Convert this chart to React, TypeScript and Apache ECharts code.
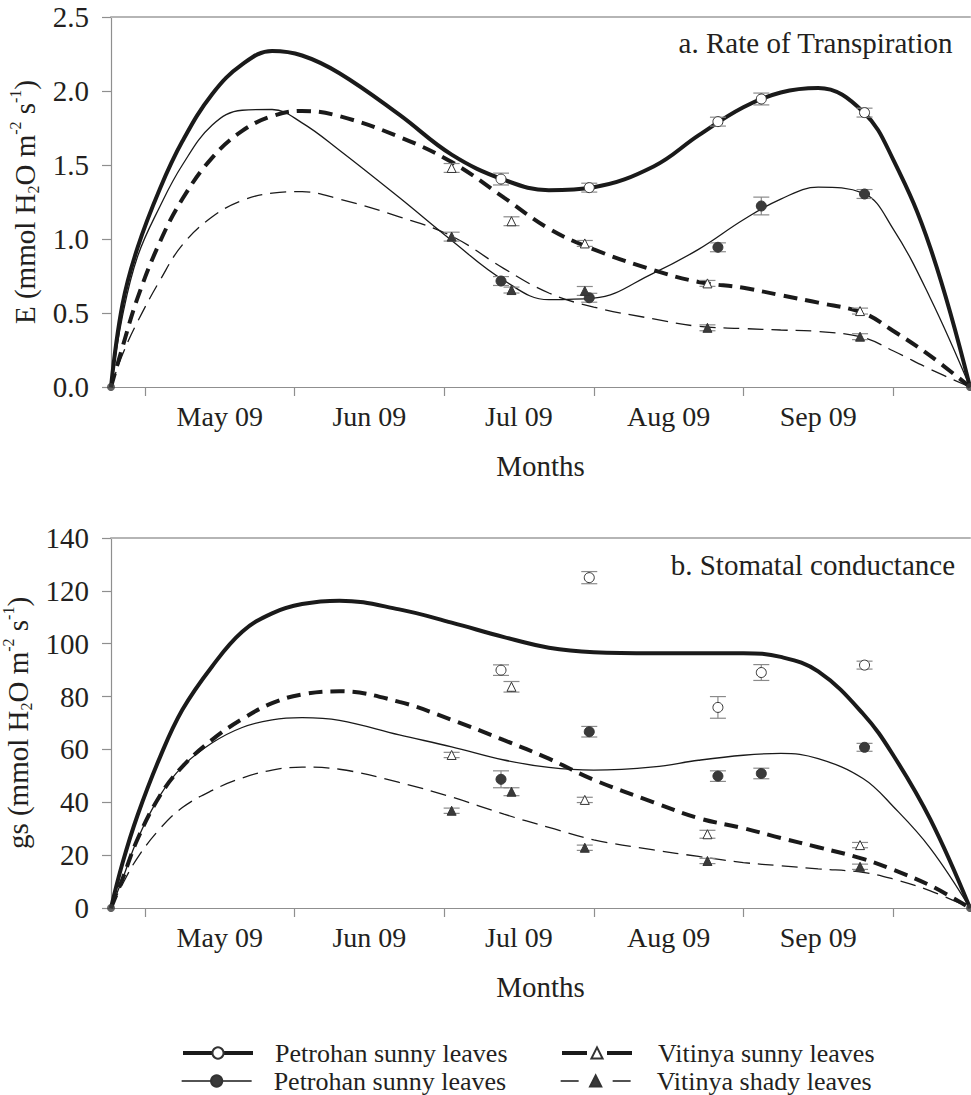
import React, { useEffect, useRef } from "react";
import * as echarts from "echarts";

// ---- axes ----
const monthTicks = [0, 1, 2, 3, 4, 5];
const monthLabels = ["May 09", "Jun 09", "Jul 09", "Aug 09", "Sep 09"];
const monthLabelPos = [0.5, 1.5, 2.5, 3.5, 4.5];
const xMin = -0.227;
const xMax = 5.515;

// ---- sampling dates (months from 1 May 2009) ----
const petrohanX = [2.38, 2.97, 3.83, 4.12, 4.81];
const vitinyaX = [2.05, 2.45, 2.94, 3.76, 4.78];

// ---- panel a: transpiration E ----
const ePetSun = [1.405, 1.347, 1.793, 1.946, 1.854];
const ePetSunErr = [0.04, 0.03, 0.03, 0.04, 0.03];
const ePetSun2 = [0.716, 0.603, 0.944, 1.223, 1.304];
const ePetSun2Err = [0.03, 0.03, 0.03, 0.06, 0.03];
const eVitSun = [1.48, 1.12, 0.97, 0.70, 0.513];
const eVitSunErr = [0.03, 0.03, 0.02, 0.02, 0.02];
const eVitShady = [1.016, 0.655, 0.649, 0.40, 0.34];
const eVitShadyErr = [0.03, 0.02, 0.03, 0.02, 0.02];

// ---- panel b: stomatal conductance gs ----
const gPetSun = [90.0, 125.0, 75.9, 89.1, 91.9];
const gPetSunErr = [2, 2.3, 4.1, 3, 1.5];
const gPetSun2 = [48.7, 66.7, 49.9, 50.9, 60.8];
const gPetSun2Err = [3.2, 2, 2, 2, 1.5];
const gVitSun = [57.9, 83.7, 40.9, 27.9, 23.8];
const gVitSunErr = [1, 2, 1, 1.5, 1];
const gVitShady = [36.8, 44.0, 22.8, 17.8, 15.6];
const gVitShadyErr = [1, 1.5, 1, 1, 1];

// ---- fitted curves ----
const fitX = [-0.227, -0.15, -0.05, 0.1, 0.25, 0.45, 0.65, 0.85, 1.05, 1.3, 1.7, 2.05, 2.4, 2.7, 3.0, 3.4, 3.7, 4.0, 4.25, 4.5, 4.8, 5.0, 5.25, 5.515];
const fitEPetSun = [0, 0.56, 0.94, 1.34, 1.66, 1.98, 2.18, 2.27, 2.24, 2.12, 1.84, 1.57, 1.40, 1.33, 1.35, 1.49, 1.70, 1.89, 1.99, 2.02, 1.86, 1.54, 0.94, 0];
const fitEPetSun2 = [0, 0.48, 0.88, 1.22, 1.50, 1.77, 1.87, 1.875, 1.785, 1.60, 1.28, 0.99, 0.72, 0.59, 0.60, 0.77, 0.93, 1.13, 1.27, 1.35, 1.31, 1.07, 0.60, 0];
const fitEVitSun = [0, 0.27, 0.60, 0.98, 1.27, 1.55, 1.73, 1.83, 1.865, 1.83, 1.69, 1.52, 1.28, 1.07, 0.93, 0.79, 0.71, 0.67, 0.62, 0.57, 0.50, 0.38, 0.21, 0];
const fitEVitShady = [0, 0.22, 0.44, 0.72, 0.96, 1.15, 1.26, 1.31, 1.32, 1.27, 1.15, 1.02, 0.80, 0.635, 0.54, 0.46, 0.41, 0.395, 0.385, 0.375, 0.335, 0.245, 0.12, 0];
const fitGPetSun = [0, 17, 35, 57, 75, 91.5, 104.5, 111.5, 115, 116.3, 113, 108, 102.5, 98.5, 96.8, 96.4, 96.4, 96.4, 95, 89.5, 73.5, 58, 33.5, 0];
const fitGPetSun2 = [0, 11, 26, 42.5, 53.5, 62.5, 68.3, 71.2, 72, 71, 65.5, 61, 56, 53.2, 52.2, 53.4, 55.9, 57.8, 58.5, 56.5, 49, 38.5, 22.6, 0];
const fitGVitSun = [0, 11, 26, 42.5, 53.5, 63.7, 71.5, 77.5, 80.8, 82, 78, 71.2, 63.5, 56.5, 48.5, 40, 34, 30.2, 26.5, 23, 18.6, 14.5, 8.5, 0];
const fitGVitShady = [0, 9, 19, 30, 38, 44.5, 49.2, 52.2, 53.3, 52.5, 47.5, 42, 35.5, 30.5, 25.8, 22, 19.5, 17.2, 16, 14.8, 13.5, 11, 6.5, 0];

const legendNames = ["Petrohan sunny leaves", "Petrohan sunny leaves ", "Vitinya sunny leaves", "Vitinya shady leaves"];

const serif = '"Liberation Serif", "Times New Roman", serif';
const axisColor = "#8f8f8f";
const textColor = "#231f20";
const ink = "#1a1a1a";
const FS = 29;
const FS_X = 28;

const styles = [
  { width: 4, type: "solid" as any, legendType: "solid" as any, symbol: "circle", size: 10, fill: "#ffffff" },
  { width: 1.3, type: "solid" as any, legendType: "solid" as any, symbol: "circle", size: 10, fill: "#3a3a3a" },
  { width: 4, type: [14, 8] as any, legendType: [25, 20] as any, symbol: "triangle", size: 9, fill: "#ffffff" },
  { width: 1.3, type: [16, 8] as any, legendType: [18, 34] as any, symbol: "triangle", size: 9, fill: "#3a3a3a" },
];

const pair = (xs: number[], ys: number[]) => xs.map((x, i) => [x, ys[i]]);
const triple = (xs: number[], ys: number[], es: number[]) => xs.map((x, i) => [x, ys[i], es[i]]);

function errorRender(params: any, api: any) {
  const x = api.value(0);
  const y = api.value(1);
  const e = api.value(2);
  const top = api.coord([x, y + e]);
  const bot = api.coord([x, y - e]);
  const half = 8;
  const st = { stroke: "#8a8a8a", lineWidth: 1.2 };
  return {
    type: "group",
    children: [
      { type: "line", shape: { x1: top[0], y1: top[1], x2: bot[0], y2: bot[1] }, style: st },
      { type: "line", shape: { x1: top[0] - half, y1: top[1], x2: top[0] + half, y2: top[1] }, style: st },
      { type: "line", shape: { x1: bot[0] - half, y1: bot[1], x2: bot[0] + half, y2: bot[1] }, style: st },
    ],
  };
}

function panelSeries(idx: number, fits: number[][], pts: number[][], errs: number[][]) {
  const out: any[] = [];
  const xs = [petrohanX, petrohanX, vitinyaX, vitinyaX];
  for (let k = 0; k < 4; k++) {
    const s = styles[k];
    out.push({
      type: "line",
      xAxisIndex: idx * 2,
      yAxisIndex: idx,
      data: pair(fitX, fits[k]),
      smooth: 0.4,
      showSymbol: false,
      symbol: "none",
      lineStyle: { color: ink, width: s.width, type: s.type },
      z: 2,
      silent: true,
    });
    out.push({
      type: "custom",
      xAxisIndex: idx * 2,
      yAxisIndex: idx,
      data: triple(xs[k], pts[k], errs[k]),
      encode: { x: 0, y: 1 },
      renderItem: errorRender,
      z: 3,
      silent: true,
    });
    out.push({
      type: "scatter",
      xAxisIndex: idx * 2,
      yAxisIndex: idx,
      data: pair(xs[k], pts[k]),
      symbol: s.symbol,
      symbolSize: s.size,
      itemStyle: { color: s.fill, borderColor: "#333", borderWidth: 1, opacity: 1 },
      z: 4,
      silent: true,
    });
  }
  out.push({
    type: "scatter",
    xAxisIndex: idx * 2,
    yAxisIndex: idx,
    data: [[xMin, 0], [xMax, 0]],
    symbol: "circle",
    symbolSize: 8,
    itemStyle: { color: "#3a3a3a" },
    z: 4,
    silent: true,
  });
  return out;
}

function xAxes(gridIndex: number) {
  return [
    {
      type: "value",
      gridIndex,
      min: xMin,
      max: xMax,
      position: "bottom",
      name: "Months",
      nameLocation: "middle",
      nameGap: 64,
      nameTextStyle: { fontFamily: serif, fontSize: FS, color: textColor },
      axisLine: { show: true, onZero: false, lineStyle: { color: axisColor, width: 1.2 } },
      axisTick: { show: true, inside: false, length: 9, customValues: monthTicks, lineStyle: { color: axisColor, width: 1.2 } },
      axisLabel: {
        customValues: monthLabelPos,
        formatter: (v: number) => {
          const i = monthLabelPos.findIndex((p) => Math.abs(p - v) < 1e-6);
          return i >= 0 ? monthLabels[i] : "";
        },
        fontFamily: serif,
        fontSize: FS_X,
        color: textColor,
        margin: 15,
      },
      splitLine: { show: false },
    },
    {
      type: "value",
      gridIndex,
      min: xMin,
      max: xMax,
      position: "top",
      axisLine: { show: true, onZero: false, lineStyle: { color: "#b5b5b5", width: 2 } },
      axisTick: { show: false },
      axisLabel: { show: false },
      splitLine: { show: false },
    },
  ];
}

const richName = {
  a: { fontFamily: serif, fontSize: FS, color: textColor, lineHeight: 34 },
  sub: { fontFamily: serif, fontSize: 16, color: textColor, lineHeight: 10, verticalAlign: "bottom" },
  sup: { fontFamily: serif, fontSize: 16, color: textColor, lineHeight: 17, verticalAlign: "top" },
};

function yAxis(gridIndex: number, max: number, interval: number, decimals: number, label: string) {
  return {
    type: "value",
    gridIndex,
    min: 0,
    max,
    interval,
    axisLine: { show: true, onZero: false, lineStyle: { color: axisColor, width: 1.2 } },
    axisTick: { show: true, inside: false, length: 9, lineStyle: { color: axisColor, width: 1.2 } },
    axisLabel: {
      formatter: (v: number) => v.toFixed(decimals),
      fontFamily: serif,
      fontSize: FS,
      color: textColor,
      margin: 22,
    },
    splitLine: { show: false },
    name: label,
    nameLocation: "middle",
    nameRotate: 90,
    nameGap: 68,
    nameTextStyle: { fontFamily: serif, fontSize: FS, color: textColor, rich: richName },
  };
}

export default function App() {
  const ref = useRef<HTMLDivElement>(null);
  useEffect(() => {
    if (!ref.current) return;
    const chart = echarts.init(ref.current, undefined, { renderer: "svg" });
    const legendSeries = legendNames.map((n, k) => ({
      type: "line",
      name: n,
      xAxisIndex: 0,
      yAxisIndex: 0,
      data: [],
      symbol: styles[k].symbol,
      symbolSize: styles[k].size + 3,
      itemStyle: { color: styles[k].fill, borderColor: "#333", borderWidth: 1 },
      lineStyle: { color: ink, width: styles[k].width, type: styles[k].legendType },
    }));
    const legendPos = [
      [181, 1040, 17],
      [181, 1068, 17],
      [560, 1040, 21],
      [560, 1068, 21],
    ];
    const legends = legendNames.map((n, k) => ({
      data: [n],
      orient: "horizontal",
      left: legendPos[k][0],
      top: legendPos[k][1],
      padding: 0,
      itemWidth: 70,
      itemHeight: 14,
      selectedMode: false,
      lineStyle: { width: "inherit", type: "inherit" },
      textStyle: { fontFamily: serif, fontSize: 26, color: textColor, lineHeight: 24, padding: [0, 0, 0, legendPos[k][2]] },
    }));
    chart.setOption({
      animation: false,
      backgroundColor: "#ffffff",
      grid: [
        { left: 111, top: 17, width: 859, height: 370, outerBoundsMode: "none", containLabel: false },
        { left: 111, top: 538, width: 859, height: 370, outerBoundsMode: "none", containLabel: false },
      ],
      xAxis: [...xAxes(0), ...xAxes(1)],
      yAxis: [
        yAxis(0, 2.5, 0.5, 1, "{a|E (mmol H}{sub|2}{a|O m}{sup|-2}{a| s}{sup|-1}{a|)}"),
        yAxis(1, 140, 20, 0, "{a|gs (mmol H}{sub|2}{a|O m}{sup|-2}{a| s}{sup|-1}{a|)}"),
      ],
      legend: legends,
      graphic: [
        { type: "text", right: 18, top: 28, style: { text: "a. Rate of Transpiration", fontFamily: serif, fontSize: FS, fill: textColor } },
        { type: "text", right: 16, top: 550, style: { text: "b. Stomatal conductance", fontFamily: serif, fontSize: FS, fill: textColor } },
      ],
      series: [
        ...panelSeries(0, [fitEPetSun, fitEPetSun2, fitEVitSun, fitEVitShady], [ePetSun, ePetSun2, eVitSun, eVitShady], [ePetSunErr, ePetSun2Err, eVitSunErr, eVitShadyErr]),
        ...panelSeries(1, [fitGPetSun, fitGPetSun2, fitGVitSun, fitGVitShady], [gPetSun, gPetSun2, gVitSun, gVitShady], [gPetSunErr, gPetSun2Err, gVitSunErr, gVitShadyErr]),
        ...legendSeries,
      ],
    });
    return () => chart.dispose();
  }, []);
  return <div ref={ref} style={{ position: "fixed", left: 0, top: 0, width: 971, height: 1095 }} />;
}
